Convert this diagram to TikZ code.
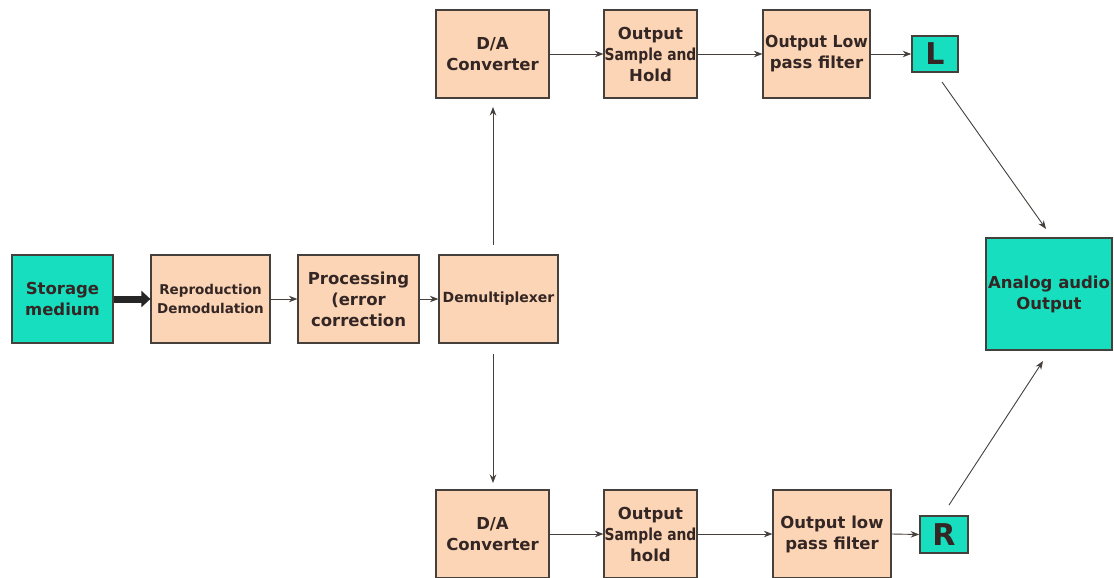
\documentclass[tikz,border=0pt]{standalone}
\usepackage{fontspec}
\setmainfont{DejaVu Sans}
\usetikzlibrary{arrows.meta}
\definecolor{peach}{RGB}{251,213,181}
\definecolor{teal}{RGB}{22,222,190}
\definecolor{edge}{RGB}{70,64,60}
\definecolor{ink}{RGB}{52,38,36}
% a line squeezed sideways so that it fits inside its box
\newcommand{\narrowline}[2]{\makebox[0pt]{\scalebox{#1}[1]{#2}}}
\begin{document}
\begin{tikzpicture}[x=1pt,y=-1pt,
  blockbox/.style={draw=edge,line width=1.2pt,fill=peach,text=ink,align=center,
    inner sep=0pt,font=\fontsize{16.5}{21}\selectfont\bfseries},
  greenbox/.style={blockbox,fill=teal},
  smallbold/.style={font=\fontsize{13.5}{19}\selectfont\bfseries},
  flow/.style={draw=edge,line width=0.9pt,-{Stealth[length=8.5pt,width=6.5pt]}},
  bigflow/.style={draw=black!85,line width=7pt,-{Triangle[length=9pt,width=16pt]}}]
\useasboundingbox (0,0) rectangle (1114,578);
\fill[white] (0,0) rectangle (1114,578);

% input chain
\node[greenbox,minimum width=101pt,minimum height=88pt] (store) at (62.5,299) {Storage\\medium};
\node[blockbox,smallbold,minimum width=119pt,minimum height=88pt] (repro) at (210.5,299) {Reproduction\\Demodulation};
\node[blockbox,minimum width=121pt,minimum height=88pt] (proc) at (358.5,299) {Processing\\(error\\correction};
\node[blockbox,smallbold,minimum width=119pt,minimum height=88pt,font=\fontsize{14}{19}\selectfont\bfseries] (demux) at (498.5,299) {Demultiplexer};

% left channel
\node[blockbox,minimum width=113pt,minimum height=88pt] (datop) at (492.5,54) {D/A\\Converter};
\node[blockbox,minimum width=93pt,minimum height=88pt] (shtop) at (650.5,54) {Output\\\narrowline{0.84}{Sample and}\\Hold};
\node[blockbox,minimum width=107pt,minimum height=88pt] (lptop) at (816.5,54) {\narrowline{0.95}{Output Low}\\pass filter};
\node[greenbox,minimum width=46pt,minimum height=36pt,line width=1.6pt,font=\fontsize{30}{30}\selectfont\bfseries] (L) at (935,54) {L};

% right channel
\node[blockbox,minimum width=113pt,minimum height=88pt] (dabot) at (492.5,534) {D/A\\Converter};
\node[blockbox,minimum width=93pt,minimum height=88pt] (shbot) at (650.5,534) {Output\\\narrowline{0.84}{Sample and}\\hold};
\node[blockbox,minimum width=118pt,minimum height=88pt] (lpbot) at (832,534) {Output low\\pass filter};
\node[greenbox,minimum width=48pt,minimum height=37pt,line width=1.6pt,font=\fontsize{30}{30}\selectfont\bfseries] (R) at (944,534.5) {R};

% output
\node[greenbox,minimum width=126pt,minimum height=112pt] (analog) at (1049,294) {\makebox[0pt]{Analog audio}\\Output};

% connectors
\draw[bigflow] (store.east) -- (repro.west);
\draw[flow] (repro.east) -- (proc.west);
\draw[flow] (proc.east) -- (demux.west);

\coordinate (upstart) at (493,245);
\coordinate (upend) at (493,107);
\coordinate (dnstart) at (493,354);
\coordinate (dnend) at (493,483);
\draw[flow] (upstart) -- (upend);
\draw[flow] (dnstart) -- (dnend);

\draw[flow] (datop.east) -- (shtop.west);
\draw[flow] (shtop.east) -- (lptop.west);
\draw[flow] (lptop.east) -- (L.west);
\draw[flow] (dabot.east) -- (shbot.west);
\draw[flow] (shbot.east) -- (lpbot.west);
\draw[flow] (lpbot.east) -- (R.west);

\coordinate (lfrom) at (942,82);
\coordinate (lto) at (1046,229);
\coordinate (rfrom) at (949,505);
\coordinate (rto) at (1043,361);
\draw[flow] (lfrom) -- (lto);
\draw[flow] (rfrom) -- (rto);
\end{tikzpicture}
\end{document}
